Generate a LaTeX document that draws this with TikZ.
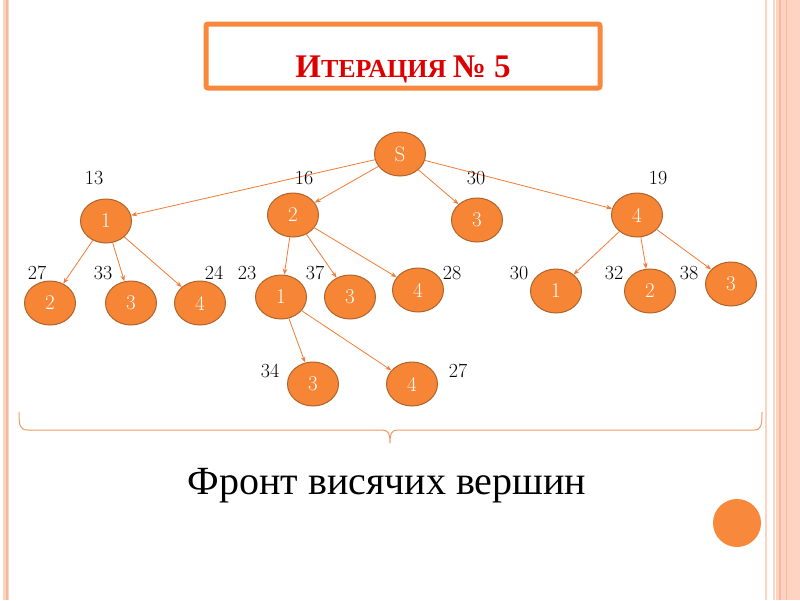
\documentclass[tikz,border=0pt]{standalone}
\usepackage{fontspec}
\usetikzlibrary{shapes.geometric,arrows.meta}
\newfontfamily\serifcyr{Liberation Serif}
\definecolor{nodefill}{HTML}{F68635}
\definecolor{nodeborder}{HTML}{B0642C}
\definecolor{edgecol}{HTML}{F27B36}
\definecolor{titleorange}{HTML}{F7883C}
\definecolor{titlered}{HTML}{DD0000}
\definecolor{bordpale}{HTML}{FDD3C2}
\definecolor{bordmid}{HTML}{F9B89C}
\definecolor{bracecol}{HTML}{F29A66}
\tikzset{
  tnode/.style={ellipse, draw=nodeborder, line width=1pt, fill=nodefill,
    minimum width=51pt, minimum height=44pt, inner sep=0pt,
    text=white, font=\fontsize{21}{24}\selectfont},
  tedge/.style={draw=edgecol, line width=0.8pt, -{Stealth[length=6pt,width=4.5pt]}},
  wlabel/.style={font=\fontsize{20}{24}\selectfont, text=black, inner sep=0pt}
}
\begin{document}
\begin{tikzpicture}[x=1pt,y=-1pt]
\useasboundingbox (0,0) rectangle (800,600);
\fill[white] (0,0) rectangle (800,600);
% page borders
\fill[bordpale] (3,0) rectangle (9,600);
\draw[bordmid, line width=1.2pt] (7,0) -- (7,600);
\draw[bordpale, line width=2pt] (766,0) -- (766,600);
\fill[bordpale] (773,0) rectangle (800,600);
\draw[bordmid, line width=2pt] (780,0) -- (780,600);
\draw[bordmid, line width=1pt] (786,0) -- (786,600);
\draw[white, line width=0.8pt] (775,0) -- (775,600);
% title
\node[draw=titleorange, line width=5pt, rounded corners=2pt,
  minimum width=394pt, minimum height=64pt, inner sep=0pt] (titlebox) at (403,56) {};
\node[anchor=base, text=titlered, inner sep=0pt] (title) at (403,77)
  {\serifcyr\bfseries\fontsize{33}{36}\selectfont И\fontsize{26}{28}\selectfont ТЕРАЦИЯ \fontsize{33}{36}\selectfont№ 5};
% nodes
\node[tnode] (s) at (400,154) {S};
\node[tnode] (a1) at (106,221) {1};
\node[tnode] (a2) at (293,215) {2};
\node[tnode] (a3) at (477,220) {3};
\node[tnode] (a4) at (637,215) {4};
\node[tnode] (b12) at (50,303) {2};
\node[tnode] (b13) at (131,303) {3};
\node[tnode] (b14) at (200,303) {4};
\node[tnode] (b21) at (281,297) {1};
\node[tnode] (b23) at (350,297) {3};
\node[tnode] (b24) at (418,290) {4};
\node[tnode] (c3) at (313,384) {3};
\node[tnode] (c4) at (412,384) {4};
\node[tnode] (b41) at (556,291) {1};
\node[tnode] (b42) at (650,291) {2};
\node[tnode] (b43) at (731,284) {3};
% edges
\draw[tedge] (s) -- (a1);
\draw[tedge] (s) -- (a2);
\draw[tedge] (s) -- (a3);
\draw[tedge] (s) -- (a4);
\draw[tedge] (a1) -- (b12);
\draw[tedge] (a1) -- (b13);
\draw[tedge] (a1) -- (b14);
\draw[tedge] (a2) -- (b21);
\draw[tedge] (a2) -- (b23);
\draw[tedge] (a2) -- (b24);
\draw[tedge] (b21) -- (c3);
\draw[tedge] (b21) -- (c4);
\draw[tedge] (a4) -- (b41);
\draw[tedge] (a4) -- (b42);
\draw[tedge] (a4) -- (b43);
% weights
\node[wlabel] (w1) at (94,178) {13};
\node[wlabel] (w2) at (304,178) {16};
\node[wlabel] (w3) at (476,178) {30};
\node[wlabel] (w4) at (658,178) {19};
\node[wlabel] (w5) at (37,273) {27};
\node[wlabel] (w6) at (103,273) {33};
\node[wlabel] (w7) at (214,273) {24};
\node[wlabel] (w8) at (247,273) {23};
\node[wlabel] (w9) at (315,273) {37};
\node[wlabel] (w10) at (452,273) {28};
\node[wlabel] (w11) at (519,273) {30};
\node[wlabel] (w12) at (614,273) {32};
\node[wlabel] (w13) at (689,273) {38};
\node[wlabel] (w14) at (270,371) {34};
\node[wlabel] (w15) at (458,371) {27};
% brace
\draw[bracecol, line width=1pt] (19,412) .. controls (19,426) and (20,430) .. (28,430)
  -- (382,430) .. controls (388,430) and (390,433) .. (390,443)
  .. controls (390,433) and (392,430) .. (398,430) -- (754,430)
  .. controls (761,430) and (762,426) .. (762,412);
\node[anchor=base, inner sep=0pt] (front) at (387,494)
  {\serifcyr\fontsize{40}{44}\selectfont Фронт висячих вершин};
% decorative circle
\fill[titleorange] (737,523) circle (24);
\end{tikzpicture}
\end{document}
